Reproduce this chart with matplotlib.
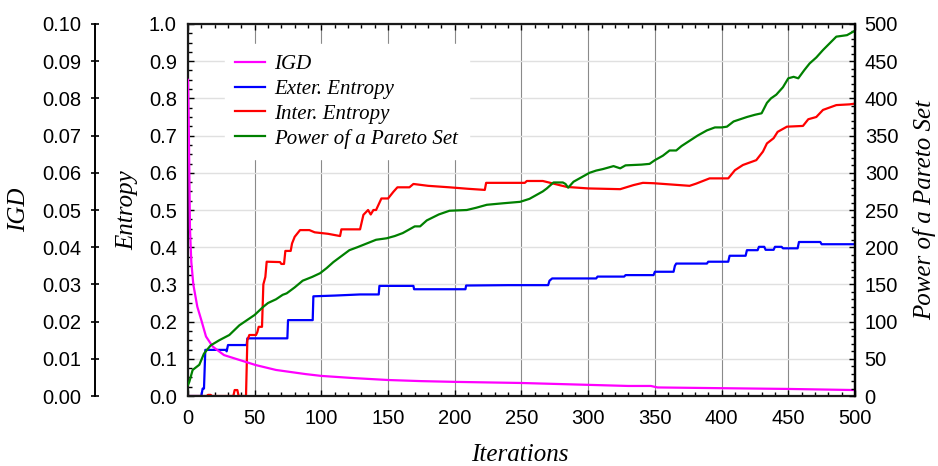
import matplotlib.pyplot as plt
from matplotlib.ticker import MultipleLocator

# IGD (left outer axis)
igd_pts = [(0, 0.085), (0.5, 0.075), (1, 0.060), (1.5, 0.045), (2.5, 0.036), (4, 0.030),
           (7, 0.024), (10, 0.0204), (13.5, 0.016), (18.5, 0.0133), (27, 0.011), (38.5, 0.0097),
           (51, 0.0083), (66, 0.0070), (88, 0.0059), (100, 0.0054), (125, 0.0048), (150, 0.0043),
           (175, 0.0040), (200, 0.0038), (250, 0.0035), (300, 0.0030), (330, 0.0027), (347, 0.0027),
           (352, 0.0023), (400, 0.0021), (450, 0.0019), (500, 0.0016)]

# Exter. Entropy
ext_pts = [(0, 0), (10, 0), (11, 0.02), (12, 0.02), (13, 0.124), (28.5, 0.124), (29, 0.12),
           (30, 0.137), (44, 0.137), (44.5, 0.155), (74.5, 0.155), (75, 0.204), (93.5, 0.204),
           (94, 0.268), (110, 0.270), (129, 0.273), (143, 0.273), (143.5, 0.296), (169, 0.296),
           (169.5, 0.287), (208, 0.287), (208.5, 0.297), (240, 0.298), (270, 0.298), (271, 0.310),
           (273, 0.316), (306, 0.316), (307, 0.321), (327, 0.321), (328, 0.325), (349, 0.325),
           (350, 0.334), (364, 0.334), (365, 0.350), (366, 0.356), (389, 0.356), (390, 0.361),
           (405, 0.361), (406, 0.377), (418, 0.377), (419, 0.392), (427, 0.392), (428, 0.401),
           (432, 0.401), (433, 0.393), (439, 0.393), (440, 0.401), (445, 0.401), (446, 0.397),
           (457, 0.397), (458, 0.414), (474, 0.414), (475, 0.408), (500, 0.408)]

# Inter. Entropy
int_pts = [(0, 0), (14, 0), (15, 0.003), (17, 0.003), (18, 0), (34, 0), (35, 0.016), (37, 0.016),
           (38, 0), (43.5, 0), (44.5, 0.15), (46, 0.164), (51, 0.164), (52, 0.172), (53, 0.186),
           (55.5, 0.186), (56.5, 0.30), (58, 0.32), (59, 0.361), (69, 0.360), (70, 0.355),
           (72, 0.355), (73, 0.39), (77, 0.39), (78, 0.41), (80, 0.428), (84, 0.446), (91, 0.446),
           (95, 0.44), (105, 0.436), (114, 0.43), (115, 0.448), (129, 0.448), (131.5, 0.487),
           (135, 0.50), (137, 0.488), (139, 0.50), (141, 0.50), (145, 0.531), (150, 0.531),
           (154, 0.549), (157, 0.561), (166, 0.561), (169, 0.570), (180, 0.565), (196, 0.561),
           (210, 0.557), (222.5, 0.554), (223.5, 0.573), (252.5, 0.573), (254, 0.578), (266, 0.578),
           (275, 0.570), (284, 0.562), (300, 0.558), (324, 0.556), (334, 0.567), (341, 0.573),
           (349, 0.572), (376, 0.565), (381, 0.571), (391, 0.585), (405, 0.585), (410, 0.607),
           (416, 0.621), (426, 0.634), (431, 0.657), (434, 0.679), (439, 0.693), (442, 0.710),
           (449, 0.724), (461, 0.726), (465, 0.744), (471, 0.75), (476, 0.769), (486, 0.782),
           (496, 0.784), (500, 0.786)]

# Power of a Pareto Set (right axis)
pow_pts = [(0, 15), (1, 19), (3.5, 35), (8.5, 42), (12, 57), (17, 68), (23.5, 75), (31, 82),
           (38.5, 95), (50, 109), (56.5, 120), (60, 125), (66, 130), (71, 136), (74, 138), (80, 146),
           (86, 155), (93, 160), (99, 165), (104, 172), (109, 180), (115, 188), (121, 196), (127, 200),
           (134, 205), (141, 210), (149, 212), (155, 215), (161, 219), (170, 228), (174, 228),
           (179, 236), (188, 244), (196, 249), (209, 250), (216, 253), (224, 257), (236, 259),
           (249, 261), (256, 265), (261, 270), (266, 275), (269, 279), (274, 287), (281, 287),
           (283, 285), (285, 280), (289, 288), (295, 294), (301, 300), (306, 303), (311, 305),
           (319, 309), (324, 306), (328, 310), (340, 311), (346, 312), (350, 317), (356, 323),
           (361, 330), (366, 330), (370, 336), (376, 343), (382, 350), (389, 357), (395, 361),
           (400, 361), (404, 362), (409, 369), (414, 372), (419, 375), (425, 378), (430, 380),
           (434, 394), (437, 400), (441, 405), (446, 415), (450, 427), (454, 429), (457.5, 427),
           (462, 438), (466, 447), (471, 455), (476, 465), (481, 474), (486, 483), (490, 484),
           (494, 485), (497, 488), (500, 491)]

x_igd, igd = zip(*igd_pts)
x_ext, ext = zip(*ext_pts)
x_int, inter = zip(*int_pts)
x_pow, power = zip(*pow_pts)

sans = 'Liberation Sans'
serif = 'Liberation Serif'
lab_font = dict(family=serif, style='italic', size=18)

fig = plt.figure(figsize=(9.38, 4.66), dpi=100)
ax = fig.add_axes([0.2004, 0.1502, 0.7111, 0.7983])
ax_igd = ax.twinx()
ax_pow = ax.twinx()

# Entropy lines
ax.plot(x_ext, ext, color='#0000ff', lw=1.6, label='Exter. Entropy')
ax.plot(x_int, inter, color='#ff0000', lw=1.6, label='Inter. Entropy')
l_igd, = ax_igd.plot(x_igd, igd, color='#ff00ff', lw=1.6, label='IGD')
l_pow, = ax_pow.plot(x_pow, power, color='#008000', lw=1.6, label='Power of a Pareto Set')

ax.set_xlim(0, 500)
ax.set_ylim(0, 1.0)
ax_igd.set_ylim(0, 0.10)
ax_pow.set_ylim(0, 500)

ax.xaxis.set_major_locator(MultipleLocator(50))
ax.xaxis.set_minor_locator(MultipleLocator(10))
ax.yaxis.set_major_locator(MultipleLocator(0.1))
ax.yaxis.set_minor_locator(MultipleLocator(0.025))
ax_igd.yaxis.set_major_locator(MultipleLocator(0.01))
ax_pow.yaxis.set_major_locator(MultipleLocator(50))
ax_pow.yaxis.set_minor_locator(MultipleLocator(10))

ax.xaxis.set_major_formatter(lambda v, p: '%d' % v)
ax.yaxis.set_major_formatter(lambda v, p: '%.1f' % v)
ax_igd.yaxis.set_major_formatter(lambda v, p: '%.2f' % v)
ax_pow.yaxis.set_major_formatter(lambda v, p: '%d' % v)

# grid
ax.xaxis.grid(True, color='#8a8a8a', lw=0.8)
ax.yaxis.grid(True, color='#e0e0e0', lw=1.0)
ax.set_axisbelow(True)

# spines
for s in ax.spines.values():
    s.set_linewidth(1.6)
    s.set_color('#1a1a1a')
for name in ['right', 'top', 'bottom']:
    ax_igd.spines[name].set_visible(False)
ax_igd.spines['left'].set_visible(True)
ax_igd.spines['left'].set_position(('axes', -0.1394))
ax_igd.spines['left'].set_linewidth(1.4)
ax_igd.yaxis.set_ticks_position('left')
ax_igd.yaxis.set_label_position('left')
for name in ['left', 'top', 'bottom']:
    ax_pow.spines[name].set_visible(False)
ax_pow.spines['right'].set_linewidth(1.6)

ax.tick_params(axis='x', which='both', direction='in', top=True, bottom=True, labelsize=14.5, pad=9.5)
ax.tick_params(axis='x', which='major', length=4, width=1)
ax.tick_params(axis='x', which='minor', length=3, width=1)
ax.tick_params(axis='y', which='both', direction='in', left=True, right=False, labelsize=14.5, pad=8)
ax.tick_params(axis='y', which='major', length=4, width=1)
ax.tick_params(axis='y', which='minor', length=3, width=1)
ax_igd.tick_params(axis='y', which='major', direction='inout', length=6, width=1.2, labelsize=14.5, pad=7)
ax_pow.tick_params(axis='y', which='both', direction='in', labelsize=14.5, pad=7)
ax_pow.tick_params(axis='y', which='major', length=4, width=1)
ax_pow.tick_params(axis='y', which='minor', length=3, width=1)

for a in (ax, ax_igd, ax_pow):
    for t in a.get_xticklabels() + a.get_yticklabels():
        t.set_family(sans)

ax.set_xlabel('Iterations', **lab_font)
ax.set_ylabel('Entropy', **lab_font)
ax_igd.set_ylabel('IGD', **lab_font)
ax_pow.set_ylabel('Power of a Pareto Set', **lab_font)
ax.xaxis.set_label_coords(0.4978, -0.1586)
ax.xaxis.label.set_va('center')
ax.yaxis.set_label_coords(-0.0905, 0.5)
ax.yaxis.label.set_va('center')
ax_igd.yaxis.set_label_coords(-0.2534, 0.5)
ax_igd.yaxis.label.set_va('center')
ax_pow.yaxis.set_label_coords(1.105, 0.5)
ax_pow.yaxis.label.set_va('center')

h_ext, h_int = ax.get_lines()
leg = ax_pow.legend([l_igd, h_ext, h_int, l_pow],
                    ['IGD', 'Exter. Entropy', 'Inter. Entropy', 'Power of a Pareto Set'],
                    loc='upper left', bbox_to_anchor=(225 / 938, 1 - 44 / 466),
                    bbox_transform=fig.transFigure, borderaxespad=0, borderpad=0.5,
                    prop=dict(family=serif, style='italic', size=15),
                    handlelength=1.4, handletextpad=0.47, labelspacing=0.25,
                    frameon=True, fancybox=False, framealpha=1, facecolor='white', edgecolor='white')

fig.savefig('out.png', dpi=100)
